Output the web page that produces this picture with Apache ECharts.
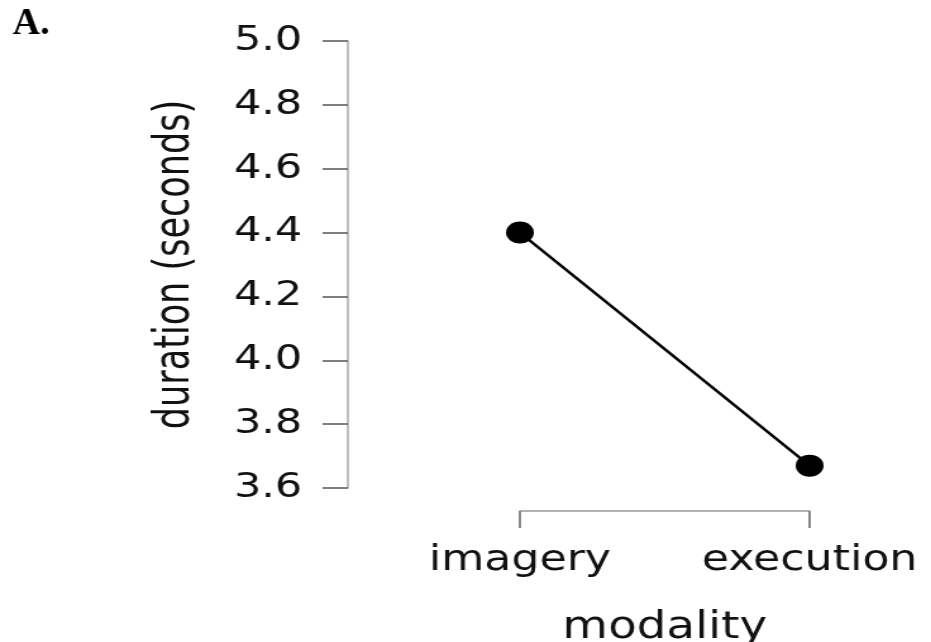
<!DOCTYPE html>
<html>
<head>
<meta charset="utf-8">
<script src="https://cdn.jsdelivr.net/npm/echarts@6/dist/echarts.min.js"></script>
<style>
  html, body { margin: 0; padding: 0; background: #fff; }
  /* the original figure is stretched horizontally, so draw narrow and scale */
  #duration-chart {
    width: 736px;
    height: 642px;
    transform: scaleX(1.265);
    transform-origin: 0 0;
  }
</style>
</head>
<body>
<div id="duration-chart"></div>
<script>
// data
const modalities = ["imagery", "execution"];
const meanDuration = [4.40, 3.67];
const yTicks = { min: 3.6, max: 5.0, step: 0.2 };

const STRETCH = 1.265;
const chart = echarts.init(document.getElementById("duration-chart"));

const option = {
  animation: false,
  grid: {
    left: 411,
    right: 96,
    top: 41,
    bottom: 154,
    outerBoundsMode: "none",
  },
  graphic: [
    {
      type: "text",
      left: 10,
      top: 5,
      scaleX: 1 / STRETCH,
      style: {
        text: "A.",
        font: "bold 38px 'Liberation Serif', serif",
        fill: "#000",
      },
    },
  ],
  xAxis: {
    type: "category",
    data: modalities,
    boundaryGap: false,
    offset: 23,
    name: "modality",
    nameLocation: "middle",
    nameGap: 99,
    nameTextStyle: {
      fontFamily: "DejaVu Sans",
      fontSize: 37,
      color: "#111",
    },
    axisLine: { lineStyle: { color: "#9a9a9a", width: 1.5 } },
    axisTick: {
      alignWithLabel: true,
      length: 17,
      lineStyle: { color: "#888", width: 2 },
    },
    axisLabel: {
      margin: 32,
      fontFamily: "DejaVu Sans",
      fontSize: 35,
      color: "#111",
    },
    splitLine: { show: false },
  },
  yAxis: {
    type: "value",
    min: yTicks.min,
    max: yTicks.max,
    interval: yTicks.step,
    offset: 136,
    name: "duration (seconds)",
    nameLocation: "middle",
    nameRotate: 90,
    nameGap: 117,
    nameTextStyle: {
      fontFamily: "'DejaVu Sans Condensed', 'Open Sans', sans-serif",
      fontSize: 39,
      color: "#111",
    },
    axisLine: { show: true, lineStyle: { color: "#a8a8a8", width: 1.5 } },
    axisTick: {
      show: true,
      length: 20,
      lineStyle: { color: "#555", width: 1.5 },
    },
    axisLabel: {
      margin: 36,
      fontFamily: "DejaVu Sans",
      fontSize: 34,
      color: "#111",
      formatter: (v) => v.toFixed(1),
    },
    splitLine: { show: false },
  },
  series: [
    {
      type: "line",
      data: meanDuration,
      symbol: "circle",
      symbolSize: 22,
      itemStyle: { color: "#000" },
      lineStyle: { color: "#000", width: 2.5 },
    },
  ],
};

chart.setOption(option);
</script>
</body>
</html>
